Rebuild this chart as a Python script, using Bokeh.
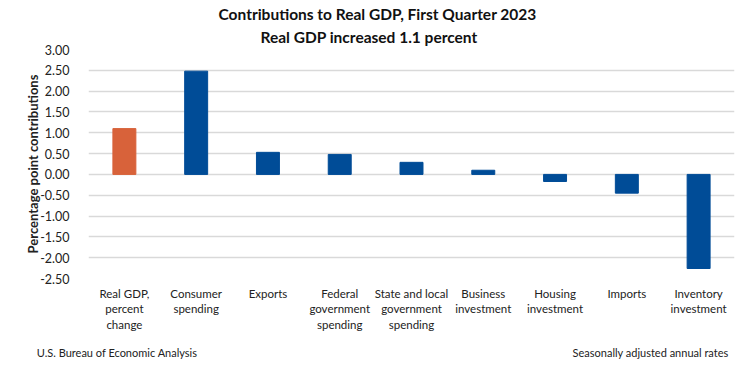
from bokeh.plotting import figure
from bokeh.models import Range1d, FixedTicker, Title, ColumnDataSource, LinearAxis
from bokeh.embed import file_html
from bokeh.resources import INLINE

title_lines = ["Contributions to Real GDP, First Quarter 2023", "Real GDP increased 1.1 percent"]
source_note = "U.S. Bureau of Economic Analysis"
rate_note = "Seasonally adjusted annual rates"
categories = ["Real GDP,\npercent\nchange", "Consumer\nspending", "Exports",
              "Federal\ngovernment\nspending", "State and local\ngovernment\nspending",
              "Business\ninvestment", "Housing\ninvestment", "Imports", "Inventory\ninvestment"]
values = [1.10, 2.48, 0.53, 0.48, 0.29, 0.10, -0.17, -0.45, -2.26]
colors = ["#D8623A"] + ["#004C97"] * 8
y_ticks = [3.0, 2.5, 2.0, 1.5, 1.0, 0.5, 0.0, -0.5, -1.0, -1.5, -2.0, -2.5]

FONT = "Lato"
xs = [i + 0.5 for i in range(len(categories))]
src = ColumnDataSource(dict(x=xs, top=values, color=colors))

p = figure(width=749, height=377, output_backend="svg", toolbar_location=None,
           x_range=Range1d(0, len(categories)), y_range=Range1d(-2.5, 3.0),
           min_border_left=88, min_border_right=15, min_border_top=49, min_border_bottom=99)
p.outline_line_color = None
p.background_fill_color = "white"
p.border_fill_color = "white"

p.vbar(x="x", top="top", bottom=0, width=0.32, color="color", source=src)

# axes
p.yaxis.ticker = FixedTicker(ticks=y_ticks)
p.yaxis.major_label_overrides = {t: f"{t:.2f}" for t in y_ticks}
p.yaxis.axis_line_color = None
p.yaxis.major_tick_line_color = None
p.yaxis.minor_tick_line_color = None
p.yaxis.major_label_standoff = 13
p.yaxis.major_label_text_font = FONT
p.yaxis.major_label_text_font_size = "12.5px"
p.yaxis.major_label_text_color = "#222222"
p.yaxis.axis_label = "Percentage point contributions"
p.yaxis.axis_label_text_font = FONT
p.yaxis.axis_label_text_font_style = "bold"
p.yaxis.axis_label_text_font_size = "13px"
p.yaxis.axis_label_text_color = "#222222"
p.yaxis.axis_label_standoff = -4

p.xaxis.ticker = FixedTicker(ticks=xs)
p.xaxis.major_label_overrides = {x: c for x, c in zip(xs, categories)}
p.xaxis.axis_line_color = None
p.xaxis.major_tick_line_color = None
p.xaxis.minor_tick_line_color = None
p.xaxis.major_label_standoff = 2
p.xaxis.major_label_text_font = FONT
p.xaxis.major_label_text_font_size = "11.5px"
p.xaxis.major_label_text_color = "#222222"

# footer notes carried by a second, line-less axis below the categories
note_pos = [0.40, 7.83]
foot = LinearAxis(ticker=FixedTicker(ticks=note_pos),
                  major_label_overrides={note_pos[0]: source_note, note_pos[1]: rate_note})
foot.axis_line_color = None
foot.major_tick_line_color = None
foot.minor_tick_line_color = None
foot.major_label_standoff = 6
foot.major_label_text_font = FONT
foot.major_label_text_font_size = "11px"
foot.major_label_text_color = "#222222"
p.add_layout(foot, "below")

p.xgrid.grid_line_color = None
p.ygrid.ticker = FixedTicker(ticks=y_ticks)
p.ygrid.grid_line_color = "#D9D9D9"
p.ygrid.grid_line_width = 1.5

# titles (nearest to the frame first)
p.add_layout(Title(text=title_lines[1], align="left", offset=172, standoff=7,
                   text_font=FONT, text_font_style="bold", text_font_size="15.5px",
                   text_color="#111111"), "above")
p.add_layout(Title(text=title_lines[0], align="left", offset=130, standoff=0,
                   text_font=FONT, text_font_style="bold", text_font_size="15.5px",
                   text_color="#111111"), "above")

open("out.html", "w").write(file_html(p, INLINE))
